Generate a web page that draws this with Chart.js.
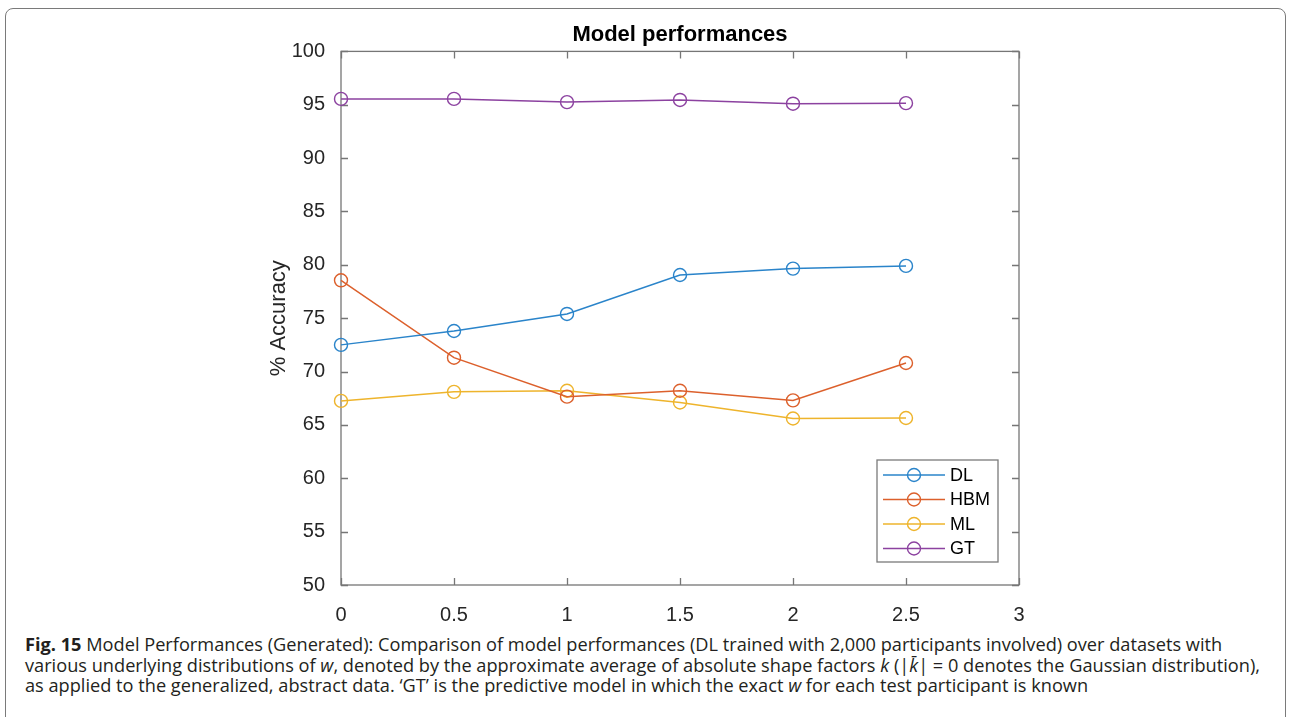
<!DOCTYPE html>
<html>
<head>
<meta charset="utf-8">
<script src="https://cdn.jsdelivr.net/npm/chart.js@4.4.1/dist/chart.umd.min.js"></script>
<style>
body { margin: 0; background: #fff; width: 1291px; height: 717px; overflow: hidden; position: relative; }
.frame { position: absolute; left: 5px; top: 8px; width: 1279px; height: 760px; border: 1.5px solid #7a7a7a; border-radius: 8px; }
#wrap { position: absolute; left: 0; top: 0; }
.caption { position: absolute; left: 25px; top: 634px; font-family: 'Open Sans', 'Noto Sans', sans-serif; font-size: 18.2px; line-height: 20.5px; color: #231f20; white-space: nowrap; }
.caption b { font-weight: 700; }
</style>
</head>
<body>
<div class="frame"></div>
<div id="wrap"><canvas id="grafico" width="1291" height="630"></canvas></div>
<div class="caption">
  <div><b>Fig. 15</b> Model Performances (Generated): Comparison of model performances (DL trained with 2,000 participants involved) over datasets with</div>
  <div>various underlying distributions of <i>w</i>, denoted by the approximate average of absolute shape factors <i>k</i> (|<i>k̄</i>| = 0 denotes the Gaussian distribution),</div>
  <div>as applied to the generalized, abstract data. ‘GT’ is the predictive model in which the exact <i>w</i> for each test participant is known</div>
</div>
<script>
// dados
const kValores = [0, 0.5, 1, 1.5, 2, 2.5]
const acuraciaDL = [72.5, 73.8, 75.4, 79.05, 79.65, 79.9]
const acuraciaHBM = [78.55, 71.3, 67.65, 68.2, 67.3, 70.8]
const acuraciaML = [67.25, 68.1, 68.2, 67.1, 65.6, 65.65]
const acuraciaGT = [95.55, 95.55, 95.25, 95.45, 95.1, 95.15]
const nomesSeries = ['DL', 'HBM', 'ML', 'GT']
const coresSeries = ['#2a84ca', '#dc602c', '#eeb42c', '#8c42a0']

const ticksX = [0, 0.5, 1, 1.5, 2, 2.5, 3]
const ticksY = [50, 55, 60, 65, 70, 75, 80, 85, 90, 95, 100]

function montaSerie(valores, i) {
    return {
        label: nomesSeries[i],
        data: kValores.map((k, j) => ({ x: k, y: valores[j] })),
        borderColor: coresSeries[i],
        backgroundColor: 'rgba(0,0,0,0)',
        borderWidth: 1.5,
        pointRadius: 6.5,
        pointHoverRadius: 6.5,
        pointBorderWidth: 1.4,
        pointBackgroundColor: 'rgba(0,0,0,0)',
        pointBorderColor: coresSeries[i],
        tension: 0,
        clip: false
    }
}

// caixa com ticks para dentro (estilo matlab)
const caixaEixos = {
    id: 'caixaEixos',
    beforeDatasetsDraw(chart) {
        const { ctx, chartArea: a, scales: { x, y } } = chart
        ctx.save()
        ctx.strokeStyle = '#767676'
        ctx.lineWidth = 1.3
        ctx.strokeRect(a.left, a.top, a.right - a.left, a.bottom - a.top)
        ctx.beginPath()
        x.ticks.forEach(t => {
            const px = Math.round(x.getPixelForValue(t.value)) + 0.5
            ctx.moveTo(px, a.bottom); ctx.lineTo(px, a.bottom - 7)
            ctx.moveTo(px, a.top); ctx.lineTo(px, a.top + 7)
        })
        y.ticks.forEach(t => {
            const py = Math.round(y.getPixelForValue(t.value)) + 0.5
            ctx.moveTo(a.left, py); ctx.lineTo(a.left + 7, py)
            ctx.moveTo(a.right, py); ctx.lineTo(a.right - 7, py)
        })
        ctx.stroke()
        ctx.restore()
    }
}

// legenda dentro do grafico
const legendaMatlab = {
    id: 'legendaMatlab',
    afterDraw(chart) {
        const { ctx, chartArea: a } = chart
        const w = 121, h = 102
        const left = a.right - 21 - w
        const top = a.bottom - 23 - h
        ctx.save()
        ctx.fillStyle = '#fff'
        ctx.fillRect(left, top, w, h)
        ctx.strokeStyle = '#7a7a7a'
        ctx.lineWidth = 1.3
        ctx.strokeRect(left, top, w, h)
        ctx.font = '18px "Liberation Sans", Arial, sans-serif'
        ctx.textBaseline = 'middle'
        chart.data.datasets.forEach((ds, i) => {
            const yy = top + 15 + i * 24.5
            ctx.strokeStyle = ds.borderColor
            ctx.lineWidth = 1.5
            ctx.beginPath()
            ctx.moveTo(left + 6, yy); ctx.lineTo(left + 68, yy)
            ctx.stroke()
            ctx.lineWidth = 1.4
            ctx.beginPath()
            ctx.arc(left + 37, yy, 6.5, 0, Math.PI * 2)
            ctx.stroke()
            ctx.fillStyle = '#000'
            ctx.fillText(ds.label, left + 73, yy + 1)
        })
        ctx.restore()
    }
}

const fonteTicks = { family: '"Liberation Sans", Arial, sans-serif', size: 20 }

const grafico = new Chart(document.getElementById('grafico'), {
    type: 'line',
    data: {
        datasets: [
            montaSerie(acuraciaDL, 0),
            montaSerie(acuraciaHBM, 1),
            montaSerie(acuraciaML, 2),
            montaSerie(acuraciaGT, 3)
        ]
    },
    options: {
        responsive: false,
        animation: false,
        layout: { padding: { left: 240, right: 272, top: 0, bottom: 5 } },
        plugins: {
            legend: { display: false },
            tooltip: { enabled: false },
            title: {
                display: true,
                text: 'Model performances',
                fullSize: false,
                color: '#000',
                font: { family: '"Liberation Sans", Arial, sans-serif', size: 22, weight: 'bold' },
                padding: { top: 22, bottom: 3 }
            }
        },
        scales: {
            x: {
                type: 'linear',
                min: 0,
                max: 3,
                afterBuildTicks: s => { s.ticks = ticksX.map(v => ({ value: v })) },
                afterFit: s => { s.height = 40 },
                grid: { display: false },
                border: { display: false },
                ticks: { color: '#262626', font: fonteTicks, padding: 10, maxRotation: 0, callback: v => String(v) }
            },
            y: {
                min: 50,
                max: 100,
                afterBuildTicks: s => { s.ticks = ticksY.map(v => ({ value: v })) },
                afterFit: s => { s.width = 101 },
                grid: { display: false },
                border: { display: false },
                ticks: { color: '#262626', font: fonteTicks, padding: 8, callback: v => String(v) },
                title: {
                    display: true,
                    text: '% Accuracy',
                    color: '#262626',
                    font: { family: '"Liberation Sans", Arial, sans-serif', size: 22 },
                    padding: { top: 26, bottom: 0 }
                }
            }
        }
    },
    plugins: [caixaEixos, legendaMatlab]
})
</script>
</body>
</html>
